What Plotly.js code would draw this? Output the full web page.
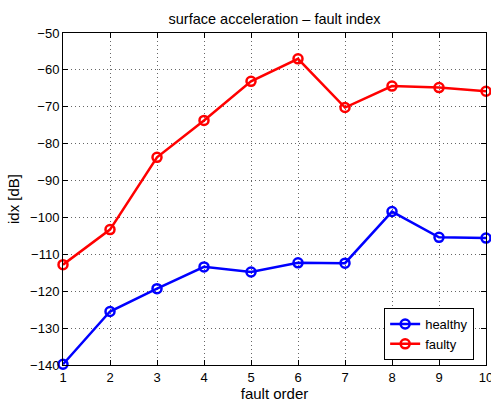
<!DOCTYPE html>
<html>
<head>
<meta charset="utf-8">
<script src="https://cdn.plot.ly/plotly-3.0.1.min.js"></script>
<style>html,body{margin:0;padding:0;background:#fff;overflow:hidden;}#chart{width:491px;height:405px;}</style>
</head>
<body>
<div id="chart"></div>
<script>
const faultOrder = [1, 2, 3, 4, 5, 6, 7, 8, 9, 10];
const healthy = [-139.8, -125.5, -119.3, -113.4, -114.8, -112.3, -112.4, -98.4, -105.4, -105.6];
const faulty = [-112.8, -103.3, -83.7, -73.7, -63.1, -57.0, -70.2, -64.4, -64.8, -65.8];
const seriesNames = ["healthy", "faulty"];

const fontFam = '"Liberation Sans", Arial, Helvetica, sans-serif';
const traces = [
  {x: faultOrder, y: healthy, name: seriesNames[0], type: 'scatter', mode: 'lines+markers',
   line: {color: '#0000ff', width: 2.5},
   marker: {symbol: 'circle-open', size: 9, color: '#0000ff', line: {width: 2.5, color: '#0000ff'}},
   cliponaxis: false},
  {x: faultOrder, y: faulty, name: seriesNames[1], type: 'scatter', mode: 'lines+markers',
   line: {color: '#ff0000', width: 2.5},
   marker: {symbol: 'circle-open', size: 9, color: '#ff0000', line: {width: 2.5, color: '#ff0000'}},
   cliponaxis: false}
];
const axisCommon = {
  showline: true, linecolor: '#000', linewidth: 1, mirror: 'ticks',
  ticks: 'inside', ticklen: 5, tickcolor: '#000', tickwidth: 1,
  showgrid: true, gridcolor: '#666', griddash: '1px,3px', gridwidth: 1,
  zeroline: false, tickfont: {family: fontFam, size: 13, color: '#000'},
  ticklabeloverflow: 'allow'
};
const layout = {
  width: 491, height: 405,
  paper_bgcolor: '#fff', plot_bgcolor: '#fff',
  margin: {l: 63, r: 5, t: 33, b: 40},
  font: {family: fontFam, color: '#000'},
  title: {text: 'surface acceleration \u2013 fault index', font: {family: fontFam, size: 14.5, color: '#000'},
          x: 0.5, xref: 'paper', y: 1, yref: 'paper', yanchor: 'bottom', pad: {b: 9}},
  xaxis: Object.assign({}, axisCommon, {range: [1, 10], dtick: 1, tick0: 1,
    title: {text: 'fault order', font: {family: fontFam, size: 15, color: '#000'}, standoff: 3}}),
  yaxis: Object.assign({}, axisCommon, {range: [-140, -50], dtick: 10, tick0: -140,
    title: {text: 'idx [dB]', font: {family: fontFam, size: 15, color: '#000'}, standoff: 6}}),
  showlegend: true,
  legend: {x: 0.972, y: 0.015, xanchor: 'right', yanchor: 'bottom', bgcolor: '#fff',
    bordercolor: '#000', borderwidth: 1, font: {family: fontFam, size: 13, color: '#000'},
    tracegroupgap: 0, itemwidth: 30}
};
Plotly.newPlot('chart', traces, layout, {displayModeBar: false, staticPlot: true});
</script>
</body>
</html>
